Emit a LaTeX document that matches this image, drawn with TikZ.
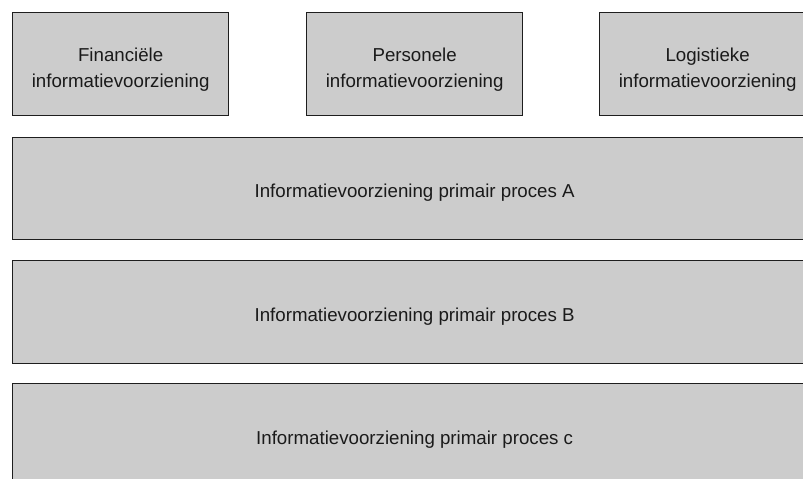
\documentclass[tikz,border=0pt]{standalone}
\usepackage{fontspec}
\setmainfont{Liberation Sans}
\definecolor{boxfill}{HTML}{CCCCCC}
\definecolor{boxline}{HTML}{1E1E1E}
\definecolor{txt}{HTML}{1A1A1A}
\newcommand{\lowerby}[1]{\rule{0pt}{#1}}
\tikzset{
  blk/.style={draw=boxline, fill=boxfill, line width=1.3pt, anchor=south west,
    inner sep=0pt, text=txt, align=center,
    font=\fontsize{18.7}{26}\selectfont},
}
\begin{document}
\begin{tikzpicture}[x=1pt,y=1pt]
\useasboundingbox (0,0) rectangle (803,479);
\clip (0,0) rectangle (803,479);
\node[blk, minimum width=216, minimum height=103] (fin) at (12,363) {\lowerby{25pt}Financiële\\informatievoorziening};
\node[blk, minimum width=216, minimum height=103] (pers) at (306,363) {\lowerby{25pt}Personele\\informatievoorziening};
\node[blk, minimum width=216, minimum height=103] (log) at (599,363) {\lowerby{25pt}Logistieke\\informatievoorziening};
\node[blk, minimum width=804, minimum height=102] (pa) at (12,239) {\lowerby{23pt}Informatievoorziening primair proces A};
\node[blk, minimum width=804, minimum height=103] (pb) at (12,115) {\lowerby{23pt}Informatievoorziening primair proces B};
\node[blk, minimum width=804, minimum height=103] (pc) at (12,-8) {\lowerby{23pt}Informatievoorziening primair proces c};
\end{tikzpicture}
\end{document}
